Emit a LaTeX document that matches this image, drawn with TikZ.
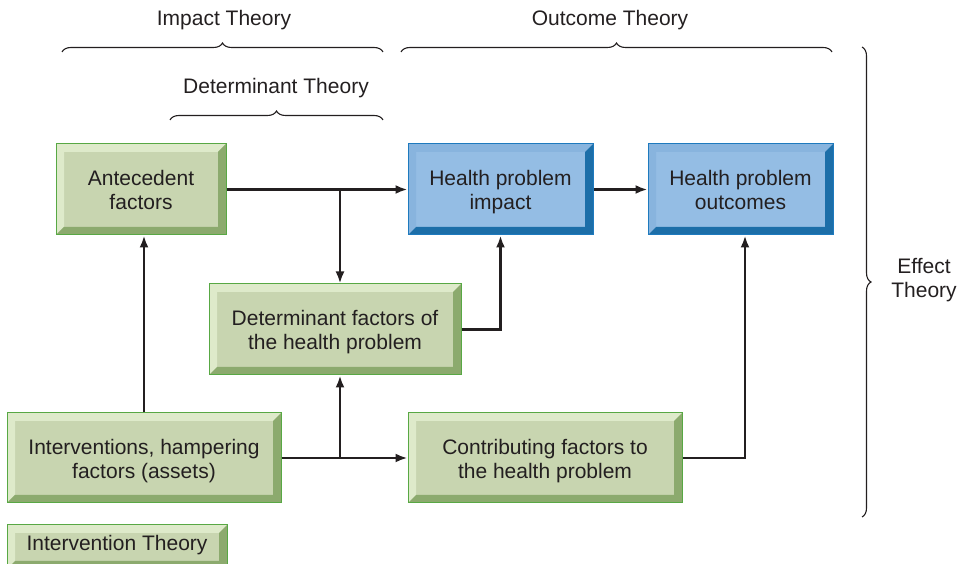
\documentclass[tikz,border=0pt]{standalone}
\usepackage{fontspec}
\setmainfont{Liberation Sans}
\usetikzlibrary{arrows.meta,decorations.pathreplacing,calc}
\definecolor{txt}{RGB}{35,31,32}
\definecolor{gface}{RGB}{200,213,176}
\definecolor{glight}{RGB}{222,234,202}
\definecolor{gdark}{RGB}{140,170,110}
\definecolor{gborder}{RGB}{88,168,68}
\definecolor{bface}{RGB}{148,189,228}
\definecolor{blight}{RGB}{136,180,222}
\definecolor{bdark}{RGB}{28,110,168}
\definecolor{bborder}{RGB}{30,122,190}
\newcommand\btxt[1]{\raisebox{-3.5pt}[\height][\depth]{\begin{tabular}{@{}c@{}}#1\end{tabular}}}
\tikzset{
  bevbox/.style n args={4}{draw=#4, fill=#1, line width=1pt, inner sep=0pt,
    text=txt, align=center, font=\fontsize{21}{24}\selectfont,
    path picture={
      \fill[#2] (path picture bounding box.north west) -- (path picture bounding box.north east)
        -- ($(path picture bounding box.north east)+(-8,-8)$) -- ($(path picture bounding box.north west)+(8,-8)$)
        -- ($(path picture bounding box.south west)+(8,8)$) -- (path picture bounding box.south west) -- cycle;
      \fill[#3] (path picture bounding box.south west) -- (path picture bounding box.south east)
        -- (path picture bounding box.north east) -- ($(path picture bounding box.north east)+(-8,-8)$)
        -- ($(path picture bounding box.south east)+(-8,8)$) -- ($(path picture bounding box.south west)+(8,8)$) -- cycle;
    }},
  gbox/.style={bevbox={gface}{glight}{gdark}{gborder}},
  bbox/.style={bevbox={bface}{blight}{bdark}{bborder}},
  arr/.style={draw=txt, line width=2.5pt, -{Latex[length=12pt,width=9pt]}},
  brc/.style={draw=txt, line width=1.1pt, decorate, decoration={brace, amplitude=9pt}},
  lbl/.style={text=txt, align=center, font=\fontsize{21}{24}\selectfont, inner sep=0pt}
}
\begin{document}
\begin{tikzpicture}[x=1pt,y=1pt]
\useasboundingbox (0,0) rectangle (957,564);
% boxes
\node[gbox, minimum width=170, minimum height=91] (ante) at (141,374.5) {\btxt{Antecedent\\factors}};
\node[bbox, minimum width=185, minimum height=91] (impact) at (500.5,374.5) {\btxt{Health problem\\impact}};
\node[bbox, minimum width=185, minimum height=91] (outc) at (740.5,374.5) {\btxt{Health problem\\outcomes}};
\node[gbox, minimum width=252, minimum height=91] (det) at (335,234.5) {\btxt{Determinant factors of\\the health problem}};
\node[gbox, minimum width=274, minimum height=90] (interv) at (144,106) {\btxt{Interventions, hampering\\factors (assets)}};
\node[gbox, minimum width=274, minimum height=90] (contr) at (545,106) {\btxt{Contributing factors to\\the health problem}};
\node[gbox, minimum width=220, minimum height=44] (itheory) at (117,17) {\raisebox{1pt}[\height][\depth]{\strut Intervention Theory}};
% connectors
\coordinate (j1) at (340,374.5);
\coordinate (j2) at (340,106);
\coordinate (c1) at (745,106);
\draw[arr] (ante.east) -- (impact.west);
\draw[arr] (j1) -- (j1 |- det.north);
\draw[arr] (impact.east) -- (outc.west);
\draw[arr] (det.east) -| (impact.south);
\draw[arr] (interv.north) -- (interv.north |- ante.south);
\draw[arr] (interv.east) -- (contr.west);
\draw[arr] (j2) -- (j2 |- det.south);
\draw[arr] (contr.east) -- (c1) -- (c1 |- outc.south);
% braces
\coordinate (b1a) at (62,512); \coordinate (b1b) at (383,512);
\coordinate (b2a) at (401,512); \coordinate (b2b) at (832,512);
\coordinate (b3a) at (170,444); \coordinate (b3b) at (383,444);
\coordinate (b4a) at (862,517); \coordinate (b4b) at (862,47);
\draw[brc] (b1a) -- (b1b);
\draw[brc] (b2a) -- (b2b);
\draw[brc] (b3a) -- (b3b);
\draw[brc] (b4a) -- (b4b);
\node[lbl] (limpact) at (224,544) {Impact Theory};
\node[lbl] (loutc) at (610,544) {Outcome Theory};
\node[lbl] (ldet) at (276,476) {Determinant Theory};
\node[lbl] (leff) at (924,284) {Effect\\Theory};
\end{tikzpicture}
\end{document}
